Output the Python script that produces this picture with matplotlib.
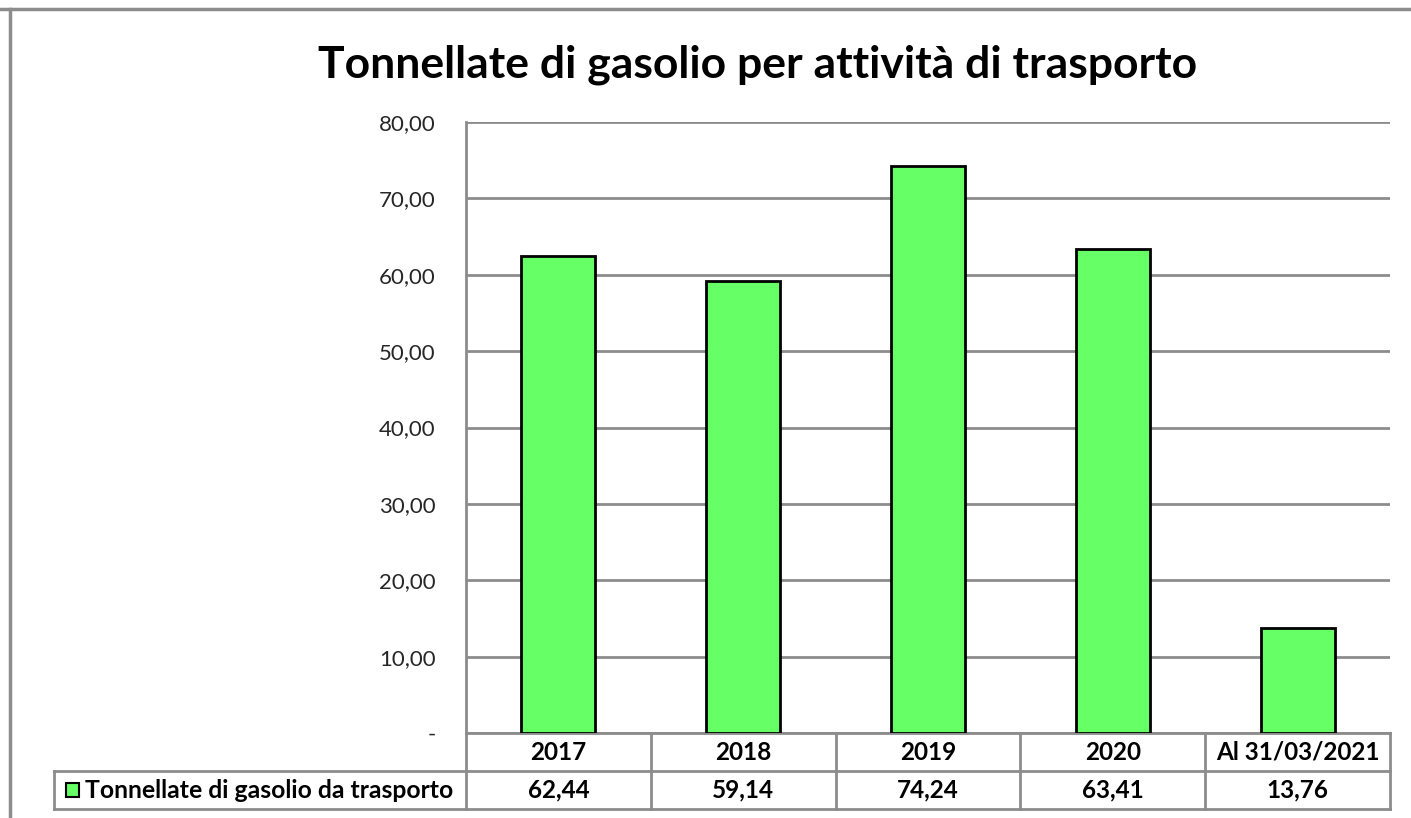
import matplotlib.pyplot as plt
from matplotlib.lines import Line2D
from matplotlib.patches import Rectangle

categories = ["2017", "2018", "2019", "2020", "Al 31/03/2021"]
values = [62.44, 59.14, 74.24, 63.41, 13.76]
series_name = "Tonnellate di gasolio da trasporto"
title = "Tonnellate di gasolio per attività di trasporto"
yticks = [0, 10, 20, 30, 40, 50, 60, 70, 80]

W, H = 1411, 818
plt.rcParams['font.family'] = ['Lato', 'DejaVu Sans']

def fmt(v):
    return f"{v:.2f}".replace(".", ",")

fig = plt.figure(figsize=(W / 100, H / 100), dpi=100)
# plot area in pixels: x 466..1390, y 122..733
ax = fig.add_axes([466 / W, 1 - 733 / H, (1390 - 466) / W, (733 - 122) / H])

grey = "#8c8c8c"
x = range(len(categories))
ax.bar(x, values, width=0.4, color="#66ff66", edgecolor="black", linewidth=2, zorder=3)
ax.set_xlim(-0.5, len(categories) - 0.5)
ax.set_ylim(0, 80)
ax.set_yticks(yticks)
ax.set_yticklabels(["-" if t == 0 else fmt(t) for t in yticks], fontsize=16, color="#262626")
ax.tick_params(axis="y", length=0, pad=22)
ax.set_xticks([])
ax.grid(axis="y", color=grey, linewidth=2)
ax.set_axisbelow(True)
for s in ["top", "right", "bottom"]:
    ax.spines[s].set_visible(False)
ax.spines["left"].set_color(grey)
ax.spines["left"].set_linewidth(2)

fig.text(758 / W, 1 - 65 / H, title, ha="center", va="center",
         fontsize=32, fontweight="bold")

# data table below the plot area
h = 38 / (733 - 122)
tr = ax.get_xaxis_transform()
colw = (1390 - 466) / len(categories)
lx = -0.5 - (466 - 54) / colw
n = len(categories)
kw = dict(color=grey, linewidth=2, transform=tr, clip_on=False)
ax.add_line(Line2D([-0.5, n - 0.5], [0, 0], **kw))
ax.add_line(Line2D([lx, n - 0.5], [-h, -h], **kw))
ax.add_line(Line2D([lx, n - 0.5], [-2 * h, -2 * h], **kw))
ax.add_line(Line2D([lx, lx], [-h, -2 * h], **kw))
for i in range(n + 1):
    ax.add_line(Line2D([i - 0.5, i - 0.5], [0, -2 * h], **kw))
for i, (c, v) in enumerate(zip(categories, values)):
    ax.text(i, -h / 2, c, transform=tr, ha="center", va="center",
            fontsize=17.5, fontweight="bold")
    ax.text(i, -1.5 * h, fmt(v), transform=tr, ha="center", va="center",
            fontsize=17.5, fontweight="bold")
ax.add_patch(Rectangle((lx + 12 / colw, -1.5 * h - 7 / 611), 13 / colw, 14 / 611,
                       transform=tr, facecolor="#66ff66", edgecolor="black",
                       linewidth=1.5, clip_on=False))
ax.text(lx + 31 / colw, -1.5 * h, series_name, transform=tr, ha="left", va="center",
        fontsize=17.8, fontweight="bold")

# outer frame (cropped chart border)
fig.add_artist(Line2D([0, 1], [1 - 9 / H, 1 - 9 / H], color=grey, linewidth=2.5,
                      transform=fig.transFigure))
fig.add_artist(Line2D([10 / W, 10 / W], [0, 1 - 9 / H], color=grey, linewidth=2.5,
                      transform=fig.transFigure))

fig.savefig("out.png", dpi=100)
